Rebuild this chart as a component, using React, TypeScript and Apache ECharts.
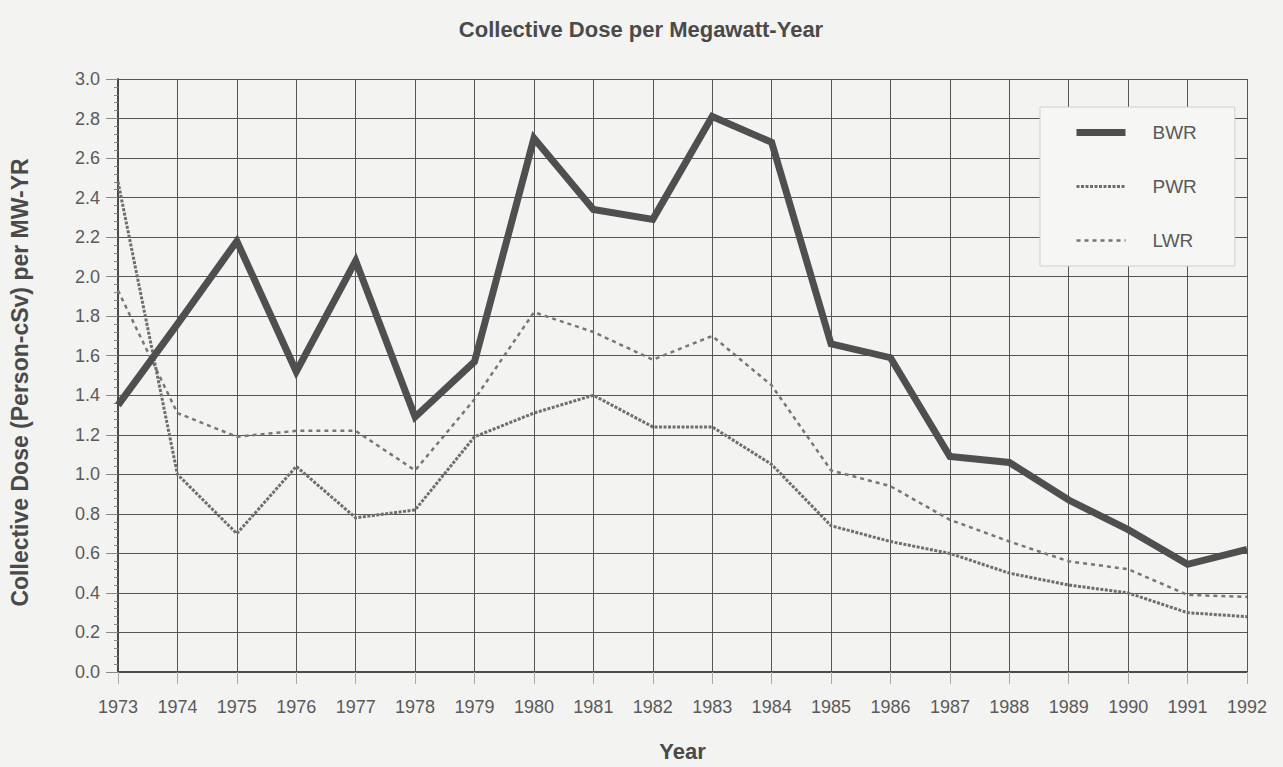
import React, { useEffect, useRef } from "react";
import * as echarts from "echarts";

const years = ["1973","1974","1975","1976","1977","1978","1979","1980","1981","1982","1983","1984","1985","1986","1987","1988","1989","1990","1991","1992"];
const bwr = [1.35, 1.76, 2.18, 1.52, 2.08, 1.29, 1.57, 2.70, 2.34, 2.29, 2.81, 2.68, 1.66, 1.59, 1.09, 1.06, 0.87, 0.72, 0.545, 0.62];
const pwr = [2.48, 1.00, 0.70, 1.04, 0.78, 0.82, 1.19, 1.31, 1.40, 1.24, 1.24, 1.05, 0.74, 0.66, 0.60, 0.50, 0.44, 0.40, 0.30, 0.28];
const lwr = [1.93, 1.31, 1.19, 1.22, 1.22, 1.02, 1.38, 1.82, 1.72, 1.58, 1.70, 1.45, 1.02, 0.94, 0.77, 0.66, 0.56, 0.52, 0.39, 0.38];
const seriesNames = ["BWR", "PWR", "LWR"];

const FONT = "'Liberation Sans', Arial, sans-serif";

const COLORS = { BWR: "#4f4f4f", PWR: "#6e6e6e", LWR: "#777" } as Record<string, string>;
const WIDTHS = { BWR: 7, PWR: 3, LWR: 2.5 } as Record<string, number>;
const DASHES = { BWR: "solid", PWR: [3, 1.5], LWR: [4, 4] } as Record<string, any>;

export default function App() {
  const ref = useRef<HTMLDivElement>(null);
  useEffect(() => {
    document.body.style.margin = "0";
    document.body.style.background = "#f3f3f1";
    const chart = echarts.init(ref.current!, null, { renderer: "svg" });
    const seriesData = [bwr, pwr, lwr];
    chart.setOption({
      animation: false,
      backgroundColor: "#f3f3f1",
      title: {
        text: "Collective Dose per Megawatt-Year",
        left: 636,
        top: 13,
        textAlign: "center",
        textStyle: { fontFamily: FONT, fontSize: 22, fontWeight: "bold", color: "#4a4a4a" },
      },
      grid: { left: 117, right: 36, top: 79, bottom: 94 },
      legend: {
        orient: "vertical",
        left: 1040,
        top: 107,
        padding: [16, 38, 16, 33],
        itemGap: 35,
        itemWidth: 49,
        itemHeight: 14,
        backgroundColor: "#f6f6f4",
        borderColor: "#cfcfcf",
        borderWidth: 1,
        itemStyle: { opacity: 0 },
        data: seriesNames.map((n) => ({
          name: n,
          itemStyle: { opacity: 0 },
          lineStyle: { width: WIDTHS[n], color: COLORS[n], type: DASHES[n] },
        })),
        textStyle: { fontFamily: FONT, fontSize: 19, color: "#5a5a5a", padding: [0, 0, 0, 22] },
      },
      xAxis: {
        type: "category",
        data: years,
        boundaryGap: false,
        name: "Year",
        nameLocation: "middle",
        nameGap: 68,
        nameTextStyle: { fontFamily: FONT, fontSize: 22, fontWeight: "bold", color: "#4a4a4a" },
        axisLine: { lineStyle: { color: "#4a4a4a", width: 2 } },
        axisTick: { show: true, length: 12, lineStyle: { color: "#aaa" } },
        axisLabel: { fontFamily: FONT, fontSize: 18, color: "#5a5a5a", margin: 26, interval: 0 },
        splitLine: { show: true, lineStyle: { color: "#555", width: 1 } },
      },
      yAxis: {
        type: "value",
        min: 0,
        max: 3,
        interval: 0.2,
        name: "Collective Dose (Person-cSv) per MW-YR",
        nameLocation: "middle",
        nameGap: 87,
        nameTextStyle: { fontFamily: FONT, fontSize: 23, fontWeight: "bold", color: "#4a4a4a", padding: [0, 14, 0, 0] },
        axisLine: { show: true, lineStyle: { color: "#4a4a4a", width: 2 } },
        axisTick: { show: true, length: 12, lineStyle: { color: "#888" } },
        minorTick: { show: true, splitNumber: 5, length: 4, lineStyle: { color: "#888" } },
        axisLabel: { fontFamily: FONT, fontSize: 18, color: "#5a5a5a", margin: 18, formatter: (v: number) => v.toFixed(1) },
        splitLine: { show: true, lineStyle: { color: "#555", width: 1 } },
      },
      series: seriesNames.map((n, i) => ({
        name: n,
        type: "line",
        data: seriesData[i],
        symbol: "none",
        lineStyle: { color: COLORS[n], width: WIDTHS[n], type: DASHES[n], join: "miter" },
        itemStyle: { color: COLORS[n] },
        z: 5 - i,
      })),
    });
    return () => chart.dispose();
  }, []);
  return <div ref={ref} style={{ width: 1283, height: 767 }} />;
}
